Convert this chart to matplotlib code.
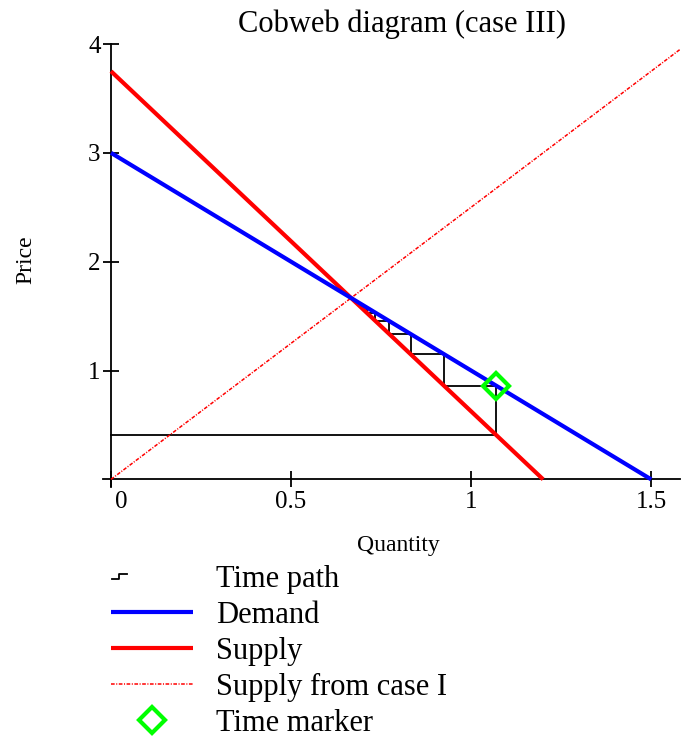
import numpy as np
import matplotlib
matplotlib.use("Agg")
from matplotlib import pyplot as plt
from matplotlib.lines import Line2D
from matplotlib.legend_handler import HandlerBase
from matplotlib.transforms import ScaledTranslation

plt.rcParams['font.family'] = ['Liberation Serif', 'DejaVu Serif']

# Data
demand_q = [0.0, 1.5]
demand_p = [3.0, 0.0]
supply_q = [0.0, 1.2]
supply_p = [3.75, 0.0]
supply1_q = [0.0, 1.6]
supply1_p = [0.0, 4.0]
# time path turning points (horizontal then vertical moves)
path_q = [0.0, 1.07, 0.925, 0.832, 0.772, 0.734, 0.71, 0.694]
path_p = [0.41, 0.86, 1.15, 1.336, 1.456, 1.532, 1.58, 1.61]
marker_q = [1.07]
marker_p = [0.86]
x_ticks = [0, 0.5, 1, 1.5]
x_labels = ['0', '0.5', '1', '1.5']
y_ticks = [1, 2, 3, 4]


class StepHandler(HandlerBase):
	"""Draws the small step glyph used for the time path in the legend."""

	def create_artists(self, legend, orig_handle, xdescent, ydescent, width, height, fontsize, trans):
		w = width * 0.18
		h = height * 0.22
		x0 = -xdescent + 0.02 * width
		y0 = -ydescent + height / 2
		xs = [x0, x0 + w * 0.45, x0 + w * 0.45, x0 + w]
		ys = [y0 - h / 2, y0 - h / 2, y0 + h / 2, y0 + h / 2]
		line = Line2D(xs, ys, color=orig_handle.get_color(), lw=1.3)
		line.set_transform(trans)
		return [line]


W, H = 681, 740
fig = plt.figure(figsize=(W / 100, H / 100), dpi=100)
ax = fig.add_axes([102.7 / W, 1 - 487 / H, (680 - 102.7) / W, (487 - 44) / H])
ax.set_xlim(-0.023, 1.58)
ax.set_ylim(-0.07, 4.0)

path_line, = ax.plot(path_q, path_p, color='black', lw=1.3, drawstyle='steps-post', zorder=2)
supply_line, = ax.plot(supply_q, supply_p, color='#ff0000', lw=3, zorder=3, solid_capstyle='butt')
demand_line, = ax.plot(demand_q, demand_p, color='#0000ff', lw=3, zorder=4, solid_capstyle='butt')
supply1_line, = ax.plot(supply1_q, supply1_p, color='#ff0000', lw=1.1,
	linestyle=(0, (2.4, 1.0, 0.7, 1.0)), zorder=3)
marker_line, = ax.plot(marker_q, marker_p, linestyle='none', marker='D', ms=13,
	mfc='none', mec='#00ff00', mew=3, zorder=5)

# axes crossing at the origin
for side in ['top', 'right']:
	ax.spines[side].set_visible(False)
ax.spines['left'].set_position(('data', 0))
ax.spines['bottom'].set_position(('data', 0))
ax.spines['left'].set_linewidth(1.3)
ax.spines['bottom'].set_linewidth(1.3)

ax.set_xticks(x_ticks)
ax.set_xticklabels(x_labels)
ax.set_yticks(y_ticks)
ax.tick_params(direction='inout', length=11, width=1.3, labelsize=18, pad=2)
ax.tick_params(axis='x', pad=3)
# the "0" label sits a little to the right of the vertical axis
zero_lab = ax.get_xticklabels()[0]
zero_lab.set_transform(zero_lab.get_transform() + ScaledTranslation(10 / 100, 0, fig.dpi_scale_trans))

fig.text(402 / W, 1 - 24 / H, 'Cobweb diagram (case III)', fontsize=22, ha='center', va='center')
fig.text(398 / W, 1 - 545 / H, 'Quantity', fontsize=17, ha='center', va='center')
fig.text(26 / W, 1 - 260 / H, 'Price', fontsize=17, ha='center', va='center', rotation=90)

handles = [path_line, demand_line, supply_line, supply1_line, marker_line]
labels = ['Time path', 'Demand', 'Supply', 'Supply from case I', 'Time marker']
ax.legend(handles, labels, loc='upper left', bbox_to_anchor=(110.7 / W, 1 - 565 / H),
	bbox_transform=fig.transFigure, frameon=False, fontsize=22, borderpad=0,
	borderaxespad=0, handlelength=2.7, handletextpad=0.75, labelspacing=0.23,
	numpoints=1, handler_map={path_line: StepHandler()})

fig.savefig('out.png', dpi=100)
